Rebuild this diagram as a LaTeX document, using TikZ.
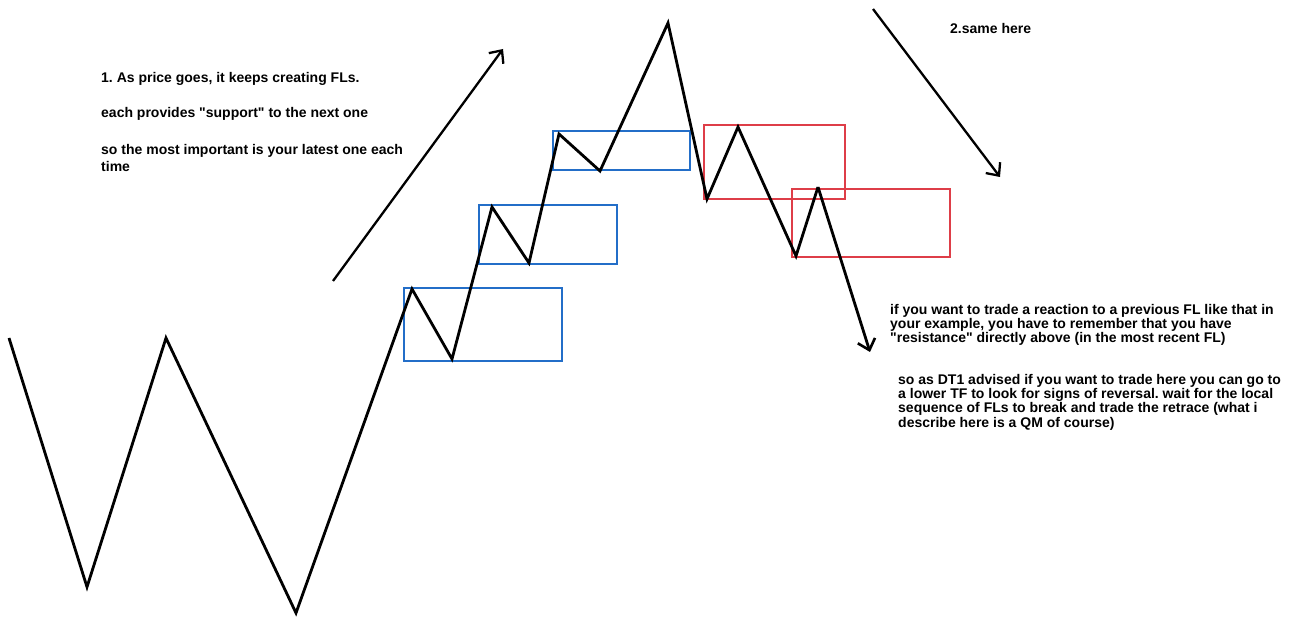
\documentclass[tikz,border=0pt]{standalone}
\usepackage{fontspec}
\setmainfont{Liberation Sans}
\newfontfamily\plainfont{Liberation Sans}
\usetikzlibrary{arrows.meta}
\definecolor{fblue}{RGB}{35,110,200}
\definecolor{fred}{RGB}{222,62,72}
\newcommand{\qq}{{\plainfont\bfseries "}}
\frenchspacing
\begin{document}
\begin{tikzpicture}[x=1pt,y=-1pt,
  price/.style={line width=2.8pt,black,line join=miter},
  bluebox/.style={draw=fblue,line width=2.3pt},
  redbox/.style={draw=fred,line width=2.3pt},
  trend/.style={line width=2.3pt,black,-{Straight Barb[length=10pt,width=18pt,line width=2.3pt]}},
  note/.style={inner sep=0pt,anchor=north west,align=left,font=\bfseries\fontsize{14}{17}\selectfont},
  noteR/.style={note,font=\bfseries\fontsize{14}{14.3}\selectfont}]
\fill[white] (0,0) rectangle (1301,617);
\useasboundingbox (0,0) rectangle (1301,617);

% FL boxes
\draw[bluebox] (404,288) rectangle (562,361);
\draw[bluebox] (479,205) rectangle (617,264);
\draw[bluebox] (553,131) rectangle (690,170);
\draw[redbox] (704,125) rectangle (845,199);
\draw[redbox] (792,189) rectangle (950,257);

% price path
\coordinate (p0) at (9,338);
\coordinate (p1) at (87,587);
\coordinate (p2) at (166,338);
\coordinate (p3) at (296,613);
\coordinate (p4) at (412,289);
\coordinate (p5) at (452,359);
\coordinate (p6) at (492,207);
\coordinate (p7) at (529,263);
\coordinate (p8) at (559,134);
\coordinate (p9) at (600,171);
\coordinate (p10) at (668,23);
\coordinate (p11) at (707,199);
\coordinate (p12) at (738,127);
\coordinate (p13) at (796,256);
\coordinate (p14) at (818,187);
\coordinate (p15) at (870,352);
\draw[price] (p0) -- (p1) -- (p2) -- (p3) -- (p4) -- (p5) -- (p6) -- (p7) -- (p8) -- (p9) -- (p10) -- (p11) -- (p12) -- (p13) -- (p14);
\draw[price,-{Straight Barb[length=10pt,width=18pt,line width=2.6pt]}] (p14) -- (p15);

% trend arrows
\coordinate (u0) at (333,281);
\coordinate (u1) at (503,49);
\coordinate (d0) at (873,9);
\coordinate (d1) at (1000,177);
\draw[trend] (u0) -- (u1);
\draw[trend] (d0) -- (d1);

% texts
\node[note] (t1) at (101,72) {1. As price goes, it keeps creating FLs.};
\node[note] (t2) at (101,107) {each provides \qq support\qq\ to the next one};
\node[note] (t3) at (101,144) {so the most important is your latest one each\\time};
\node[note] (t4) at (950,23) {2.same here};
\node[noteR] (t5) at (890,304) {if you want to trade a reaction to a previous FL like that in\\your example, you have to remember that you have\\\qq resistance\qq\ directly above (in the most recent FL)};
\node[noteR] (t6) at (898,374) {so as DT1 advised if you want to trade here you can go to\\a lower TF to look for signs of reversal. wait for the local\\sequence of FLs to break and trade the retrace (what i\\describe here is a QM of course)};
\end{tikzpicture}
\end{document}
